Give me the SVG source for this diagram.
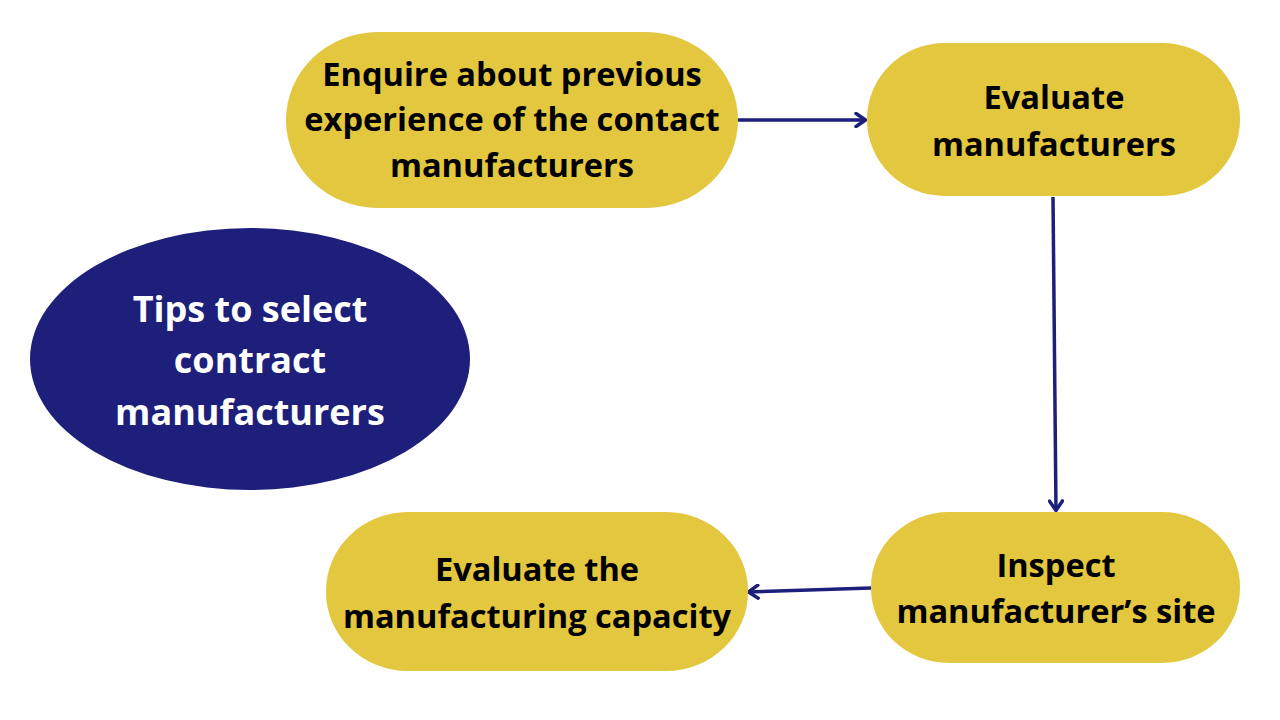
<svg xmlns="http://www.w3.org/2000/svg" width="1280" height="720" viewBox="0 0 1280 720">
<defs>
<style>
.node{fill:#E2C73F;}
.hub{fill:#1D1F7B;}
.t{font-family:"Open Sans",Lato,"Liberation Sans",sans-serif;font-weight:700;font-size:32.6px;fill:#000;text-anchor:middle;}
.th{font-family:"Open Sans",Lato,"Liberation Sans",sans-serif;font-weight:700;font-size:36px;fill:#fff;text-anchor:middle;}
.edge{stroke:#1D1F7B;stroke-width:3.5;fill:none;}
</style>
<marker id="arr" viewBox="0 0 14 16" refX="13" refY="8" markerWidth="14" markerHeight="16" markerUnits="userSpaceOnUse" orient="auto">
<path d="M3,1.5 L12.5,8 L3,14.5" fill="none" stroke="#1D1F7B" stroke-width="3.5" stroke-linecap="round" stroke-linejoin="round"/>
</marker>
</defs>
<rect width="1280" height="720" fill="#fff"/>
<g id="connectors">
<line class="edge" x1="738" y1="120" x2="866" y2="120" marker-end="url(#arr)"/>
<line class="edge" x1="1053" y1="197" x2="1056" y2="511" marker-end="url(#arr)"/>
<line class="edge" x1="871" y1="588" x2="748" y2="592" marker-end="url(#arr)"/>
</g>
<g id="hub">
<ellipse class="hub" cx="250" cy="359" rx="220" ry="131"/>
<text class="th" x="250" y="322">Tips to select</text>
<text class="th" x="250" y="373">contract</text>
<text class="th" x="250" y="425">manufacturers</text>
</g>
<g id="enquire">
<rect class="node" x="286" y="32" width="452" height="176" rx="92" ry="88"/>
<text class="t" x="512" y="86">Enquire about previous</text>
<text class="t" x="512" y="131">experience of the contact</text>
<text class="t" x="512" y="177">manufacturers</text>
</g>
<g id="evaluate">
<rect class="node" x="867" y="43" width="373" height="153" rx="78" ry="76"/>
<text class="t" x="1054" y="109">Evaluate</text>
<text class="t" x="1054" y="156">manufacturers</text>
</g>
<g id="inspect">
<rect class="node" x="871" y="512" width="369" height="151" rx="78" ry="75"/>
<text class="t" x="1056" y="577">Inspect</text>
<text class="t" x="1056" y="623">manufacturer’s site</text>
</g>
<g id="capacity">
<rect class="node" x="326" y="512" width="422" height="159" rx="82" ry="79"/>
<text class="t" x="537" y="581">Evaluate the</text>
<text class="t" x="537" y="628">manufacturing capacity</text>
</g>
</svg>
